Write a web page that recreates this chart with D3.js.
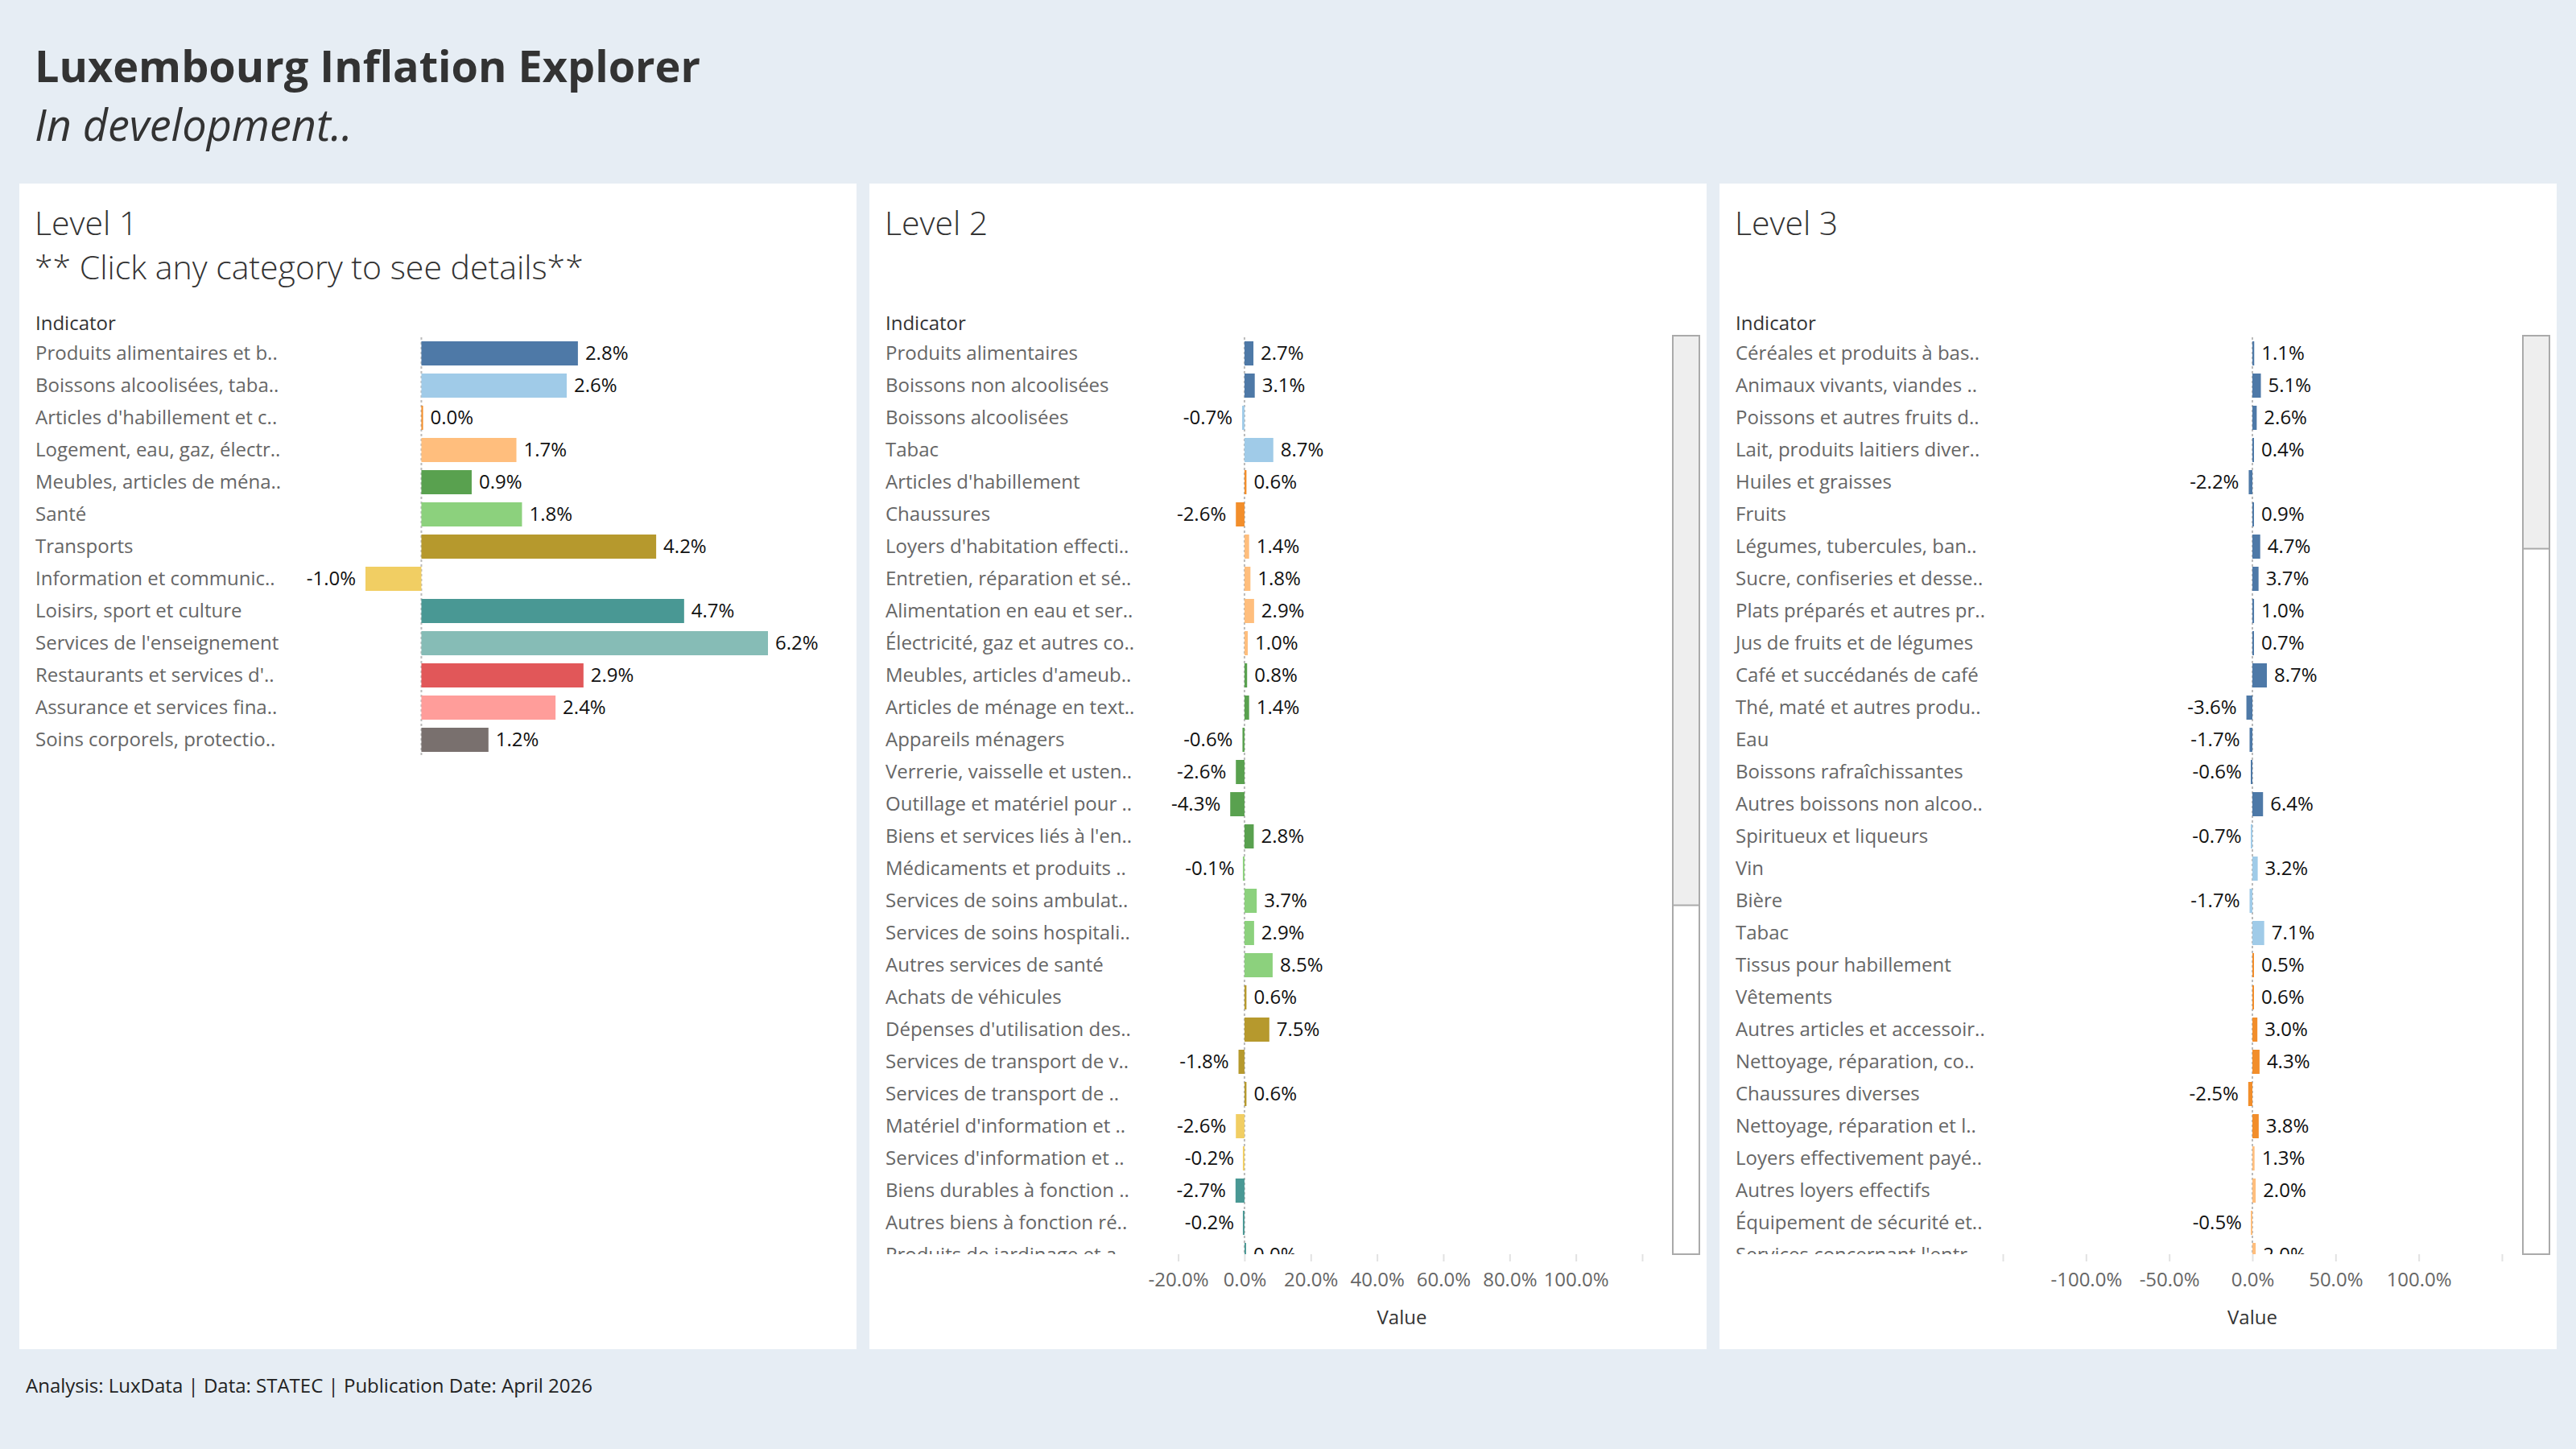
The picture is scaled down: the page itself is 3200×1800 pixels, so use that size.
<!DOCTYPE html>
<html>
<head>
<meta charset="utf-8">
<script src="https://cdn.jsdelivr.net/npm/d3@7"></script>
<style>
  body { margin: 0; background: #e6edf4; }
  svg { display: block; font-family: "Open Sans", sans-serif; }
</style>
</head>
<body>
<div id="chart"></div>
<script>
// ---- data ----
var level1Names = ["Produits alimentaires et b..", "Boissons alcoolisées, taba..", "Articles d'habillement et c..",
  "Logement, eau, gaz, électr..", "Meubles, articles de ména..", "Santé", "Transports",
  "Information et communic..", "Loisirs, sport et culture", "Services de l'enseignement",
  "Restaurants et services d'..", "Assurance et services fina..", "Soins corporels, protectio.."];
var level1Values = [2.8, 2.6, 0.03, 1.7, 0.9, 1.8, 4.2, -1.0, 4.7, 6.2, 2.9, 2.4, 1.2];

var level2Names = ["Produits alimentaires", "Boissons non alcoolisées", "Boissons alcoolisées", "Tabac",
  "Articles d'habillement", "Chaussures", "Loyers d'habitation effecti..", "Entretien, réparation et sé..",
  "Alimentation en eau et ser..", "Électricité, gaz et autres co..", "Meubles, articles d'ameub..",
  "Articles de ménage en text..", "Appareils ménagers", "Verrerie, vaisselle et usten..",
  "Outillage et matériel pour ..", "Biens et services liés à l'en..", "Médicaments et produits ..",
  "Services de soins ambulat..", "Services de soins hospitali..", "Autres services de santé",
  "Achats de véhicules", "Dépenses d'utilisation des..", "Services de transport de v..",
  "Services de transport de ..", "Matériel d'information et ..", "Services d'information et ..",
  "Biens durables à fonction ..", "Autres biens à fonction ré..", "Produits de jardinage et a.."];
var level2Values = [2.7, 3.1, -0.7, 8.7, 0.6, -2.6, 1.4, 1.8, 2.9, 1.0, 0.8, 1.4, -0.6, -2.6, -4.3, 2.8,
  -0.1, 3.7, 2.9, 8.5, 0.6, 7.5, -1.8, 0.6, -2.6, -0.2, -2.7, -0.2, 0.0];
var level2Parent = [0, 0, 1, 1, 2, 2, 3, 3, 3, 3, 4, 4, 4, 4, 4, 4, 5, 5, 5, 5, 6, 6, 6, 6, 7, 7, 8, 8, 8];
var level2TotalRows = 46;

var level3Names = ["Céréales et produits à bas..", "Animaux vivants, viandes ..", "Poissons et autres fruits d..",
  "Lait, produits laitiers diver..", "Huiles et graisses", "Fruits", "Légumes, tubercules, ban..",
  "Sucre, confiseries et desse..", "Plats préparés et autres pr..", "Jus de fruits et de légumes",
  "Café et succédanés de café", "Thé, maté et autres produ..", "Eau", "Boissons rafraîchissantes",
  "Autres boissons non alcoo..", "Spiritueux et liqueurs", "Vin", "Bière", "Tabac",
  "Tissus pour habillement", "Vêtements", "Autres articles et accessoir..", "Nettoyage, réparation, co..",
  "Chaussures diverses", "Nettoyage, réparation et l..", "Loyers effectivement payé..",
  "Autres loyers effectifs", "Équipement de sécurité et..", "Services concernant l'entr.."];
var level3Values = [1.1, 5.1, 2.6, 0.4, -2.2, 0.9, 4.7, 3.7, 1.0, 0.7, 8.7, -3.6, -1.7, -0.6, 6.4,
  -0.7, 3.2, -1.7, 7.1, 0.5, 0.6, 3.0, 4.3, -2.5, 3.8, 1.3, 2.0, -0.5, 2.0];
var level3Parent = [0, 0, 0, 0, 0, 0, 0, 0, 0, 0, 0, 0, 0, 0, 0, 1, 1, 1, 1, 2, 2, 2, 2, 2, 2, 3, 3, 3, 3];
var level3TotalRows = 123;

var level1Domain = [-1.0, 6.2];
var level2Domain = [-25, 120];
var level3Domain = [-150, 150];
var level2Ticks = [-20, 0, 20, 40, 60, 80, 100, 120];
var level2TickLabels = [-20, 0, 20, 40, 60, 80, 100];
var level3Ticks = [-150, -100, -50, 0, 50, 100, 150];
var level3TickLabels = [-100, -50, 0, 50, 100];

(function() {
    var width = 3200, height = 1800;
    var palette = ["#4e79a7", "#a0cbe8", "#f28e2b", "#ffbe7d", "#59a14f", "#8cd17d", "#b6992d",
                   "#f1ce63", "#499894", "#86bcb6", "#e15759", "#ff9d9a", "#79706e"];

    var svg = d3.select("#chart").append("svg")
        .attr("width", width)
        .attr("height", height);

    svg.append("rect").attr("width", width).attr("height", height).attr("fill", "#e6edf4");

    // header
    svg.append("text").attr("x", 43).attr("y", 102)
        .attr("font-size", 54).attr("font-weight", 700).attr("fill", "#333")
        .text("Luxembourg Inflation Explorer");
    svg.append("text").attr("x", 43).attr("y", 175)
        .attr("font-size", 54).attr("font-style", "italic").attr("fill", "#333")
        .text("In development..");

    // footer
    svg.append("text").attr("x", 32).attr("y", 1730)
        .attr("font-size", 24).attr("fill", "#222")
        .text("Analysis: LuxData | Data: STATEC | Publication Date: April 2026");

    var panelW = 1040, panelTop = 228, panelH = 1448, rowStep = 40, plotTop = 419;
    var viewTop = 417, viewBottom = 1558;

    function fmt(v) { return v.toFixed(1) + "%"; }

    function drawPanel(idx, cfg) {
        var px = 24 + idx * (panelW + 16);
        var g = svg.append("g");

        g.append("rect").attr("x", px).attr("y", panelTop)
            .attr("width", panelW).attr("height", panelH).attr("fill", "#fff");

        g.append("text").attr("x", px + 19).attr("y", 292)
            .attr("font-size", 41).attr("font-weight", 300).attr("fill", "#333")
            .text(cfg.title);
        if (cfg.subtitle) {
            g.append("text").attr("x", px + 19).attr("y", 347)
                .attr("font-size", 41).attr("font-weight", 300).attr("fill", "#333")
                .text(cfg.subtitle);
        }
        g.append("text").attr("x", px + 20).attr("y", 410)
            .attr("font-size", 24).attr("fill", "#333")
            .text("Indicator");

        var n = cfg.names.length;
        var x = d3.scaleLinear().domain(cfg.domain).range([px + cfg.r0, px + cfg.r1]);
        var y = d3.scaleBand().domain(d3.range(n))
            .range([plotTop, plotTop + n * rowStep])
            .paddingInner(0.25).paddingOuter(0.125);

        var body = g.append("g");
        var ruleBottom = plotTop + n * rowStep;
        if (cfg.scroll) {
            var clipId = "clip" + idx;
            svg.append("clipPath").attr("id", clipId).append("rect")
                .attr("x", px).attr("y", viewTop).attr("width", panelW).attr("height", viewBottom - viewTop);
            body.attr("clip-path", "url(#" + clipId + ")");
            ruleBottom = viewBottom;
        }

        body.append("line")
            .attr("x1", x(0)).attr("x2", x(0))
            .attr("y1", plotTop).attr("y2", ruleBottom)
            .attr("stroke", "#bbb").attr("stroke-width", 2).attr("stroke-dasharray", "3,3");

        var rows = body.selectAll(".row")
            .data(cfg.values.map(function(v, i) { return { i: i, v: v, name: cfg.names[i] }; }))
            .enter().append("g").attr("class", "row");

        rows.append("text")
            .attr("x", px + 20)
            .attr("y", function(d) { return y(d.i) + y.bandwidth() / 2; })
            .attr("dy", "0.35em")
            .attr("font-size", 24).attr("fill", "#666")
            .text(function(d) { return d.name; });

        rows.append("rect")
            .attr("x", function(d) {
                var w = Math.max(2, Math.abs(x(d.v) - x(0)));
                return d.v < 0 ? x(0) - w : x(0);
            })
            .attr("y", function(d) { return y(d.i); })
            .attr("width", function(d) { return Math.max(2, Math.abs(x(d.v) - x(0))); })
            .attr("height", y.bandwidth())
            .attr("fill", function(d) { return cfg.color(d.i); });

        rows.append("text")
            .attr("x", function(d) { return d.v < 0 ? x(d.v) - 12 : Math.max(x(d.v), x(0) + 2) + 9; })
            .attr("y", function(d) { return y(d.i) + y.bandwidth() / 2; })
            .attr("dy", "0.35em")
            .attr("text-anchor", function(d) { return d.v < 0 ? "end" : "start"; })
            .attr("font-size", 24).attr("fill", "#111")
            .text(function(d) { return fmt(d.v); });

        if (cfg.scroll) {
            var viewH = viewBottom - viewTop;
            var thumbH = viewH * viewH / (cfg.totalRows * rowStep);
            g.append("rect").attr("x", px + 998).attr("y", viewTop)
                .attr("width", 33).attr("height", viewH)
                .attr("fill", "#fff").attr("stroke", "#aaa").attr("stroke-width", 2);
            g.append("rect").attr("x", px + 998).attr("y", viewTop)
                .attr("width", 33).attr("height", thumbH)
                .attr("fill", "#eee").attr("stroke", "#aaa").attr("stroke-width", 2);

            var axis = d3.axisBottom(x)
                .tickValues(cfg.ticks)
                .tickSize(9)
                .tickPadding(14)
                .tickFormat(function(d) { return cfg.tickLabels.indexOf(d) >= 0 ? fmt(d) : ""; });
            var ax = g.append("g")
                .attr("transform", "translate(0," + viewBottom + ")")
                .call(axis);
            ax.select(".domain").remove();
            ax.selectAll(".tick line").attr("stroke", "#e2e2e2").attr("stroke-width", 2);
            ax.selectAll(".tick text")
                .attr("font-family", "Open Sans, sans-serif")
                .attr("font-size", 24).attr("fill", "#666");

            g.append("text")
                .attr("x", (x.range()[0] + x.range()[1]) / 2).attr("y", 1645)
                .attr("text-anchor", "middle")
                .attr("font-size", 24).attr("fill", "#333")
                .text("Value");
        }
    }

    drawPanel(0, {
        title: "Level 1", subtitle: "** Click any category to see details**",
        names: level1Names, values: level1Values, domain: level1Domain,
        r0: 430, r1: 930,
        color: function(i) { return palette[i]; }
    });
    drawPanel(1, {
        title: "Level 2",
        names: level2Names, values: level2Values, domain: level2Domain,
        r0: 363, r1: 960, scroll: true, totalRows: level2TotalRows,
        ticks: level2Ticks, tickLabels: level2TickLabels,
        color: function(i) { return palette[level2Parent[i]]; }
    });
    drawPanel(2, {
        title: "Level 3",
        names: level3Names, values: level3Values, domain: level3Domain,
        r0: 352, r1: 972, scroll: true, totalRows: level3TotalRows,
        ticks: level3Ticks, tickLabels: level3TickLabels,
        color: function(i) { return palette[level3Parent[i]]; }
    });
})();
</script>
</body>
</html>
